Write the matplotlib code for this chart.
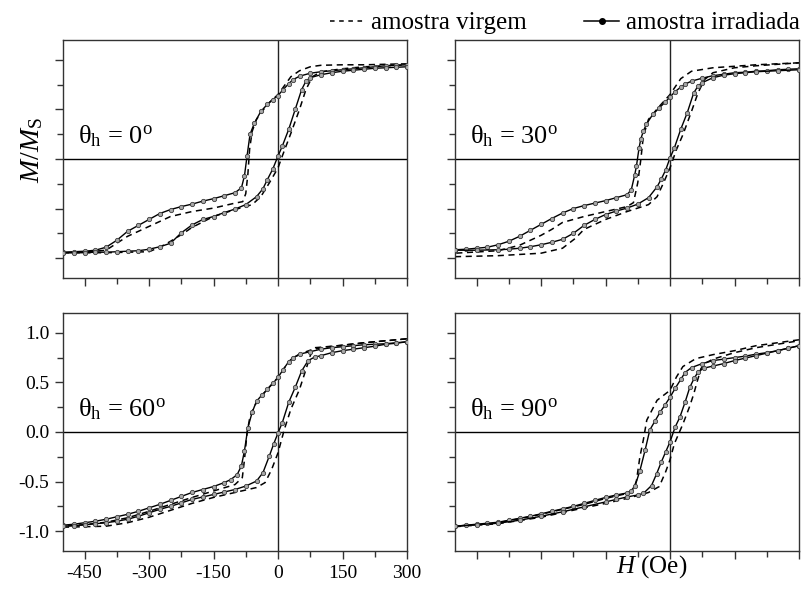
import matplotlib
matplotlib.use('Agg')
import matplotlib.pyplot as plt
from matplotlib.lines import Line2D
from matplotlib.ticker import MultipleLocator

plt.rcParams['font.family'] = 'Liberation Serif'
plt.rcParams['mathtext.fontset'] = 'custom'
plt.rcParams['mathtext.rm'] = 'Liberation Serif'
plt.rcParams['mathtext.it'] = 'Liberation Serif:italic'
plt.rcParams['axes.unicode_minus'] = False

# ---- theta_h = 0 ----
h0_vu = [300, 250, 200, 150, 100, 75, 50, 30, 15, 0, -25, -50, -60, -66, -70, -75, -82, -100, -150, -200, -250, -300, -350, -375, -400, -450, -500]
m0_vu = [0.96, 0.955, 0.95, 0.95, 0.945, 0.93, 0.89, 0.83, 0.74, 0.65, 0.55, 0.40, 0.28, 0.10, -0.15, -0.35, -0.43, -0.445, -0.495, -0.53, -0.58, -0.68, -0.78, -0.85, -0.92, -0.94, -0.945]
h0_vl = [-500, -400, -300, -275, -250, -220, -200, -150, -100, -60, -40, -20, 0, 10, 30, 50, 65, 80, 100, 150, 200, 300]
m0_vl = [-0.945, -0.945, -0.935, -0.89, -0.83, -0.75, -0.69, -0.58, -0.51, -0.46, -0.38, -0.24, -0.09, 0.03, 0.26, 0.50, 0.70, 0.83, 0.88, 0.91, 0.93, 0.95]
h0_iu = [300, 275, 250, 225, 200, 175, 150, 125, 100, 75, 50, 35, 25, 12, 0, -12, -25, -40, -55, -65, -72, -78, -85, -100, -125, -150, -175, -200, -225, -250, -275, -300, -325, -350, -375, -400, -425, -450, -475, -500]
m0_iu = [0.95, 0.945, 0.94, 0.93, 0.92, 0.91, 0.90, 0.89, 0.88, 0.865, 0.835, 0.80, 0.76, 0.70, 0.64, 0.60, 0.55, 0.48, 0.36, 0.25, 0.03, -0.17, -0.29, -0.34, -0.37, -0.40, -0.425, -0.455, -0.48, -0.51, -0.55, -0.61, -0.67, -0.73, -0.82, -0.89, -0.92, -0.93, -0.935, -0.94]
h0_il = [-500, -475, -450, -425, -400, -375, -350, -325, -300, -275, -250, -225, -200, -175, -150, -125, -100, -75, -50, -35, -25, -12, 0, 10, 25, 40, 55, 65, 75, 100, 125, 150, 175, 200, 225, 250, 275, 300]
m0_il = [-0.945, -0.945, -0.945, -0.94, -0.94, -0.935, -0.93, -0.925, -0.91, -0.885, -0.85, -0.745, -0.665, -0.61, -0.58, -0.54, -0.505, -0.46, -0.38, -0.30, -0.21, -0.10, 0.03, 0.13, 0.30, 0.50, 0.70, 0.785, 0.82, 0.85, 0.87, 0.885, 0.895, 0.905, 0.915, 0.92, 0.925, 0.93]

# ---- theta_h = 30 ----
h30_vu = [300, 200, 100, 50, 25, 0, -25, -50, -62, -68, -75, -85, -100, -150, -200, -250, -275, -300, -350, -400, -500]
m30_vu = [0.97, 0.95, 0.92, 0.885, 0.81, 0.65, 0.53, 0.40, 0.23, -0.01, -0.24, -0.44, -0.48, -0.53, -0.58, -0.64, -0.71, -0.77, -0.87, -0.925, -0.95]
h30_vl = [-500, -400, -300, -250, -220, -200, -150, -100, -50, -30, -15, 0, 15, 30, 50, 65, 80, 100, 150, 200, 300]
m30_vl = [-0.985, -0.975, -0.95, -0.90, -0.80, -0.71, -0.61, -0.53, -0.46, -0.38, -0.24, -0.09, 0.095, 0.245, 0.48, 0.665, 0.80, 0.87, 0.92, 0.94, 0.97]
h30_iu = [300, 275, 250, 225, 200, 175, 150, 125, 100, 75, 50, 35, 25, 12, 0, -12, -25, -40, -55, -62, -68, -72, -78, -82, -90, -100, -125, -150, -175, -200, -225, -250, -275, -300, -325, -350, -375, -400, -425, -450, -475, -500]
m30_iu = [0.91, 0.905, 0.90, 0.89, 0.885, 0.875, 0.87, 0.855, 0.84, 0.815, 0.785, 0.755, 0.725, 0.68, 0.625, 0.57, 0.515, 0.45, 0.35, 0.28, 0.20, 0.11, -0.07, -0.16, -0.31, -0.36, -0.39, -0.42, -0.445, -0.47, -0.50, -0.545, -0.60, -0.66, -0.72, -0.78, -0.83, -0.865, -0.89, -0.90, -0.91, -0.915]
h30_il = [-500, -450, -400, -375, -350, -325, -300, -275, -250, -225, -200, -175, -150, -125, -100, -75, -50, -30, -20, -10, 0, 10, 25, 40, 55, 65, 75, 100, 125, 150, 175, 200, 250, 300]
m30_il = [-0.92, -0.92, -0.915, -0.91, -0.90, -0.885, -0.865, -0.84, -0.81, -0.75, -0.67, -0.61, -0.56, -0.525, -0.495, -0.455, -0.39, -0.28, -0.20, -0.11, 0.01, 0.11, 0.30, 0.465, 0.665, 0.735, 0.77, 0.82, 0.845, 0.86, 0.87, 0.88, 0.89, 0.90]

# ---- theta_h = 60 ----
h60_vu = [300, 250, 200, 150, 100, 75, 50, 25, 0, -25, -50, -65, -72, -78, -83, -100, -150, -200, -250, -300, -350, -400, -450, -500]
m60_vu = [0.94, 0.92, 0.90, 0.875, 0.85, 0.825, 0.785, 0.71, 0.55, 0.43, 0.30, 0.16, -0.01, -0.28, -0.46, -0.53, -0.595, -0.66, -0.73, -0.80, -0.865, -0.91, -0.935, -0.95]
h60_vl = [-500, -400, -350, -300, -250, -200, -150, -100, -50, -30, -15, 0, 15, 30, 50, 65, 75, 85, 100, 150, 200, 300]
m60_vl = [-0.96, -0.95, -0.915, -0.86, -0.79, -0.72, -0.66, -0.61, -0.56, -0.51, -0.38, -0.21, 0.03, 0.23, 0.43, 0.63, 0.77, 0.85, 0.855, 0.875, 0.90, 0.94]
h60_iu = [300, 275, 250, 225, 200, 175, 150, 125, 100, 75, 50, 35, 25, 12, 0, -12, -25, -38, -50, -60, -70, -78, -85, -95, -110, -125, -150, -175, -200, -225, -250, -275, -300, -325, -350, -375, -400, -425, -450, -475, -500]
m60_iu = [0.91, 0.90, 0.89, 0.885, 0.88, 0.87, 0.86, 0.85, 0.835, 0.81, 0.785, 0.75, 0.71, 0.63, 0.55, 0.49, 0.43, 0.37, 0.31, 0.20, 0.045, -0.19, -0.34, -0.43, -0.48, -0.51, -0.55, -0.58, -0.61, -0.65, -0.69, -0.73, -0.765, -0.80, -0.83, -0.855, -0.88, -0.90, -0.915, -0.93, -0.94]
h60_il = [-500, -475, -450, -425, -400, -375, -350, -325, -300, -275, -250, -225, -200, -175, -150, -125, -100, -75, -50, -35, -20, -10, 0, 10, 25, 40, 55, 70, 85, 100, 125, 150, 175, 200, 225, 250, 275, 300]
m60_il = [-0.95, -0.945, -0.935, -0.925, -0.915, -0.90, -0.88, -0.85, -0.815, -0.78, -0.75, -0.715, -0.68, -0.655, -0.63, -0.605, -0.58, -0.545, -0.495, -0.41, -0.24, -0.12, -0.01, 0.095, 0.30, 0.45, 0.615, 0.72, 0.755, 0.77, 0.80, 0.82, 0.835, 0.85, 0.865, 0.885, 0.895, 0.91]

# ---- theta_h = 90 ----
h90_vu = [300, 250, 200, 150, 100, 60, 30, 15, 0, -30, -54, -62, -70, -78, -85, -100, -150, -200, -250, -300, -350, -400, -450, -500]
m90_vu = [0.93, 0.90, 0.87, 0.82, 0.78, 0.74, 0.66, 0.555, 0.42, 0.32, 0.12, -0.08, -0.25, -0.49, -0.58, -0.62, -0.67, -0.73, -0.78, -0.83, -0.875, -0.915, -0.935, -0.95]
h90_vl = [-500, -400, -300, -200, -150, -100, -50, -25, -10, 0, 10, 30, 45, 55, 62, 72, 85, 100, 150, 200, 250, 300]
m90_vl = [-0.955, -0.925, -0.86, -0.765, -0.72, -0.67, -0.61, -0.55, -0.40, -0.28, -0.12, 0.08, 0.25, 0.38, 0.49, 0.64, 0.70, 0.735, 0.80, 0.85, 0.885, 0.92]
h90_iu = [300, 275, 250, 225, 200, 175, 150, 125, 100, 75, 50, 35, 25, 12, 0, -12, -23, -35, -47, -58, -70, -81, -90, -100, -125, -150, -175, -200, -225, -250, -275, -300, -325, -350, -375, -400, -425, -450, -475, -500]
m90_iu = [0.87, 0.845, 0.82, 0.80, 0.785, 0.765, 0.75, 0.735, 0.72, 0.69, 0.65, 0.60, 0.53, 0.44, 0.35, 0.27, 0.20, 0.11, 0.02, -0.185, -0.39, -0.54, -0.59, -0.615, -0.635, -0.66, -0.69, -0.72, -0.75, -0.775, -0.80, -0.825, -0.85, -0.87, -0.89, -0.91, -0.92, -0.93, -0.94, -0.95]
h90_il = [-500, -450, -400, -350, -300, -250, -200, -150, -125, -100, -75, -62, -43, -31, -20, -10, 0, 12, 23, 35, 46, 56, 66, 80, 100, 125, 150, 175, 200, 225, 250, 275, 300]
m90_il = [-0.95, -0.935, -0.92, -0.89, -0.85, -0.805, -0.755, -0.705, -0.68, -0.655, -0.635, -0.62, -0.54, -0.42, -0.30, -0.20, -0.10, 0.05, 0.15, 0.30, 0.45, 0.54, 0.61, 0.645, 0.665, 0.69, 0.72, 0.745, 0.77, 0.795, 0.82, 0.845, 0.87]

angles = ['0', '30', '60', '90']
virgem = [(h0_vu, m0_vu, h0_vl, m0_vl), (h30_vu, m30_vu, h30_vl, m30_vl),
          (h60_vu, m60_vu, h60_vl, m60_vl), (h90_vu, m90_vu, h90_vl, m90_vl)]
irrad = [(h0_iu, m0_iu, h0_il, m0_il), (h30_iu, m30_iu, h30_il, m30_il),
         (h60_iu, m60_iu, h60_il, m60_il), (h90_iu, m90_iu, h90_il, m90_il)]

W, H = 802, 589
fig = plt.figure(figsize=(W / 100, H / 100), dpi=100)
corners = [(63, 40), (455, 40), (63, 313), (455, 313)]  # pixels, top-left

dash = (0, (4, 3))
mk = dict(marker='o', ms=3.1, mfc='#a8a8a8', mec='#3a3a3a', mew=0.6)

for i, (x0, y0) in enumerate(corners):
    ax = fig.add_axes([x0 / W, 1 - (y0 + 238) / H, 344 / W, 238 / H])
    ax.axhline(0, color='k', lw=1.0, zorder=1)
    ax.axvline(0, color='#222222', lw=1.0, zorder=1)

    hu, mu, hl, ml = virgem[i]
    ax.plot(hu, mu, color='k', ls=dash, lw=1.1, zorder=2)
    ax.plot(hl, ml, color='k', ls=dash, lw=1.1, zorder=2)
    hu, mu, hl, ml = irrad[i]
    ax.plot(hu, mu, color='k', lw=1.0, zorder=3, **mk)
    ax.plot(hl, ml, color='k', lw=1.0, zorder=3, **mk)

    ax.set_xlim(-500, 300)
    ax.set_ylim(-1.2, 1.2)
    ax.set_xticks([-450, -300, -150, 0, 150, 300])
    ax.xaxis.set_minor_locator(MultipleLocator(75))
    ax.yaxis.set_major_locator(MultipleLocator(0.5))
    ax.yaxis.set_minor_locator(MultipleLocator(0.25))
    ax.yaxis.set_major_formatter(plt.FormatStrFormatter('%.1f'))
    ax.tick_params(which='major', direction='out', length=6, width=1,
                   labelsize=14, color='#333333', pad=4)
    ax.tick_params(which='minor', direction='out', length=4, width=1,
                   color='#333333')
    for s in ax.spines.values():
        s.set_color('#333333')
        s.set_linewidth(1.0)
    if i != 2:
        ax.tick_params(labelleft=False, labelbottom=False)

    ax.text(0.045, 0.567, 'θ$_{\\rm h}$ = ' + angles[i] + '$^{\\rm o}$',
            transform=ax.transAxes, fontsize=19, va='baseline')

fig.text(32 / W, 1 - 150 / H, '$M/M_{\\rm S}$', rotation=90, fontsize=20,
         ha='center', va='center')
fig.text(652 / W, 1 - 567 / H, '$H$ (Oe)', fontsize=18, ha='center', va='center')

handles = [Line2D([], [], color='k', ls=(0, (3, 3)), lw=1.1),
           Line2D([], [], color='k', lw=1.1, marker='o', ms=4, mfc='k', mec='k')]
fig.legend(handles, ['amostra virgem', 'amostra irradiada'], loc='center right',
           bbox_to_anchor=(1.0, 1 - 23 / H), ncol=2, frameon=False, fontsize=18,
           handlelength=1.4, handletextpad=0.25, columnspacing=2.3,
           borderpad=0, borderaxespad=0.1, numpoints=1)

fig.savefig('out.png', dpi=100)
